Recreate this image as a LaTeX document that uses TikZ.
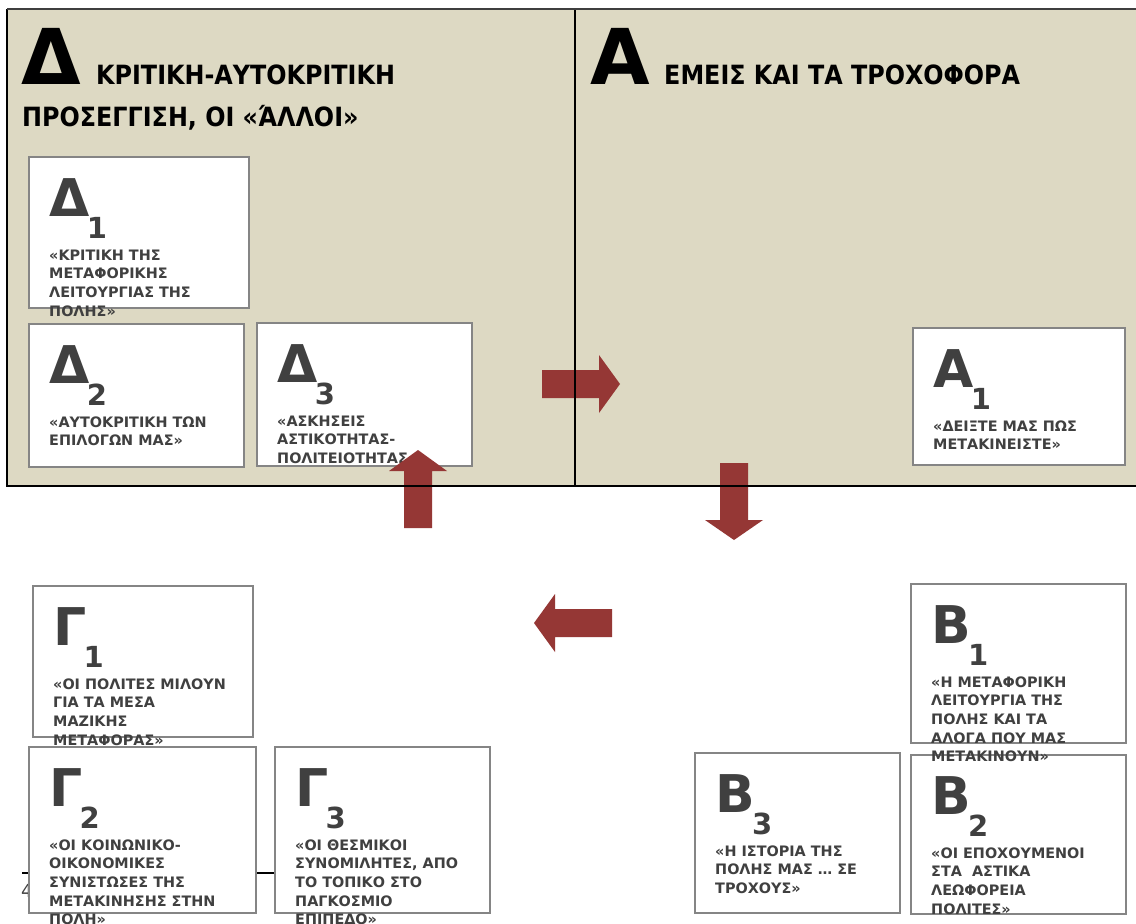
\documentclass[tikz,border=0pt]{standalone}
\usepackage{fontspec}
\setmainfont{DejaVu Sans}
\newfontfamily\hdfont{DejaVu Sans Condensed}
\definecolor{panel}{HTML}{DDD9C3}
\definecolor{arrowred}{HTML}{953735}
\definecolor{txt}{HTML}{404040}
\definecolor{cardline}{HTML}{858585}
\definecolor{topline}{HTML}{3F3F3F}
\newcommand\cardbox[5]{%
  \node[card, minimum width={(#4-#2)*1pt}, minimum height={(#5-#3)*1pt}] (#1) at (#2,#3) {};}
\newcommand\cardtext[6]{%
  \node[bigl] (#1-L) at (#2+20,#3+59) {#4};
  \node[subl] (#1-S) at ([xshift=-3pt,yshift=-22pt]#1-L.base east) {#5};
  \foreach \ln [count=\i] in {#6} {\node[cardtxt] (#1-t\i) at (#2+20,#3+103+18.7*\i-18.7) {\ln};}}
\begin{document}
\begin{tikzpicture}[x=1pt,y=-1pt,
  card/.style={draw=cardline, line width=1.8pt, fill=white, anchor=north west, inner sep=0, outer sep=0},
  bigl/.style={anchor=base west, inner sep=0, text=txt, font=\fontsize{52}{52}\selectfont\bfseries},
  subl/.style={anchor=base west, inner sep=0, text=txt, font=\fontsize{29}{29}\selectfont\bfseries},
  cardtxt/.style={anchor=base west, inner sep=0, text=txt, font=\fontsize{14.4}{17}\selectfont\bfseries},
  hbig/.style={anchor=base west, inner sep=0, text=black, font=\fontsize{77}{77}\selectfont\bfseries},
  htxt/.style={anchor=base west, inner sep=0, text=black, font=\hdfont\bfseries\fontsize{26.5}{30}\selectfont},
  blockarrow/.style={fill=arrowred, draw=none},
  panelst/.style={fill=panel, draw=none, anchor=north west, inner sep=0, outer sep=0}]
\useasboundingbox (0,0) rectangle (1136,924);
\fill[white] (0,0) rectangle (1136,924);
% panels
\node[panelst, minimum width=568pt, minimum height=477pt] (leftpanel) at (7,9) {};
\node[panelst, minimum width=570pt, minimum height=477pt] (rightpanel) at (575,9) {};
% headings
\node[hbig] (hD) at (21,84) {Δ};
\node[htxt] (hDt1) at (96,84) {ΚΡΙΤΙΚΗ-ΑΥΤΟΚΡΙΤΙΚΗ};
\node[htxt] (hDt2) at (22,126) {ΠΡΟΣΕΓΓΙΣΗ, ΟΙ «ΆΛΛΟΙ»};
\node[hbig] (hA) at (590,84) {A};
\node[htxt] (hAt) at (664,84) {ΕΜΕΙΣ ΚΑΙ ΤΑ ΤΡΟΧΟΦΟΡΑ};
% footer line and page number
\coordinate (fl1) at (22,873);
\coordinate (fl2) at (280,873);
\draw[line width=2pt, black] (fl1) -- (fl2);
\node[anchor=base west, inner sep=0, text=txt, font=\fontsize{18}{18}\selectfont] (pagenum) at (21,897) {4};
% cards
\cardbox{D1}{29}{157}{249}{308}
\cardbox{D2}{29}{324}{244}{467}
\cardbox{D3}{257}{323}{472}{466}
\cardbox{A1}{913}{328}{1125}{465}
\cardbox{G1}{33}{586}{253}{737}
\cardbox{G2}{29}{747}{256}{913}
\cardbox{G3}{275}{747}{490}{913}
\cardbox{B1}{911}{584}{1126}{743}
\cardbox{B2}{911}{755}{1126}{914}
\cardbox{B3}{695}{753}{900}{913}
% card texts
\cardtext{D1}{29}{157}{Δ}{1}{«ΚΡΙΤΙΚΗ ΤΗΣ,ΜΕΤΑΦΟΡΙΚΗΣ,ΛΕΙΤΟΥΡΓΙΑΣ ΤΗΣ,ΠΟΛΗΣ»}
\cardtext{D2}{29}{324}{Δ}{2}{«ΑΥΤΟΚΡΙΤΙΚΗ ΤΩΝ,ΕΠΙΛΟΓΩΝ ΜΑΣ»}
\cardtext{D3}{257}{323}{Δ}{3}{«ΑΣΚΗΣΕΙΣ,ΑΣΤΙΚΟΤΗΤΑΣ-,ΠΟΛΙΤΕΙΟΤΗΤΑΣ}
\cardtext{A1}{913}{328}{A}{1}{«ΔΕΙΞΤΕ ΜΑΣ ΠΩΣ,ΜΕΤΑΚΙΝΕΙΣΤΕ»}
\cardtext{G1}{33}{586}{Γ}{1}{«ΟΙ ΠΟΛΙΤΕΣ ΜΙΛΟΥΝ,ΓΙΑ ΤΑ ΜΕΣΑ,ΜΑΖΙΚΗΣ,ΜΕΤΑΦΟΡΑΣ»}
\cardtext{G2}{29}{747}{Γ}{2}{«ΟΙ ΚΟΙΝΩΝΙΚΟ-,ΟΙΚΟΝΟΜΙΚΕΣ,ΣΥΝΙΣΤΩΣΕΣ ΤΗΣ,ΜΕΤΑΚΙΝΗΣΗΣ ΣΤΗΝ,ΠΟΛΗ»}
\cardtext{G3}{275}{747}{Γ}{3}{«ΟΙ ΘΕΣΜΙΚΟΙ,{ΣΥΝΟΜΙΛΗΤΕΣ, ΑΠΟ},ΤΟ ΤΟΠΙΚΟ ΣΤΟ,ΠΑΓΚΟΣΜΙΟ,ΕΠΙΠΕΔΟ»}
\cardtext{B1}{911}{584}{B}{1}{«Η ΜΕΤΑΦΟΡΙΚΗ,ΛΕΙΤΟΥΡΓΙΑ ΤΗΣ,ΠΟΛΗΣ ΚΑΙ ΤΑ,ΑΛΟΓΑ ΠΟΥ ΜΑΣ,ΜΕΤΑΚΙΝΟΥΝ»}
\cardtext{B2}{911}{755}{B}{2}{«ΟΙ ΕΠΟΧΟΥΜΕΝΟΙ,ΣΤΑ~\ ΑΣΤΙΚΑ,ΛΕΩΦΟΡΕΙΑ,ΠΟΛΙΤΕΣ»}
\cardtext{B3}{695}{753}{B}{3}{«Η ΙΣΤΟΡΙΑ ΤΗΣ,ΠΟΛΗΣ ΜΑΣ … ΣΕ,ΤΡΟΧΟΥΣ»}
% block arrows
\fill[blockarrow] (542,370) -- (599,370) -- (599,355) -- (620,384) -- (599,413) -- (599,398) -- (542,398) -- cycle;
\fill[blockarrow] (720,463) -- (748,463) -- (748,520) -- (763,520) -- (734,540) -- (705,520) -- (720,520) -- cycle;
\fill[blockarrow] (404,528) -- (404,471) -- (389,471) -- (418,450) -- (447,471) -- (432,471) -- (432,528) -- cycle;
\fill[blockarrow] (612,609) -- (555,609) -- (555,594) -- (534,623) -- (555,652) -- (555,637) -- (612,637) -- cycle;
% panel borders
\draw[line width=1.2pt, black] (leftpanel.north west) -- (leftpanel.south west) -- (rightpanel.south east);
\draw[line width=1.2pt, black] (leftpanel.north east) -- (leftpanel.south east);
\draw[line width=2.5pt, topline] (leftpanel.north west) -- (rightpanel.north east);
\end{tikzpicture}
\end{document}
